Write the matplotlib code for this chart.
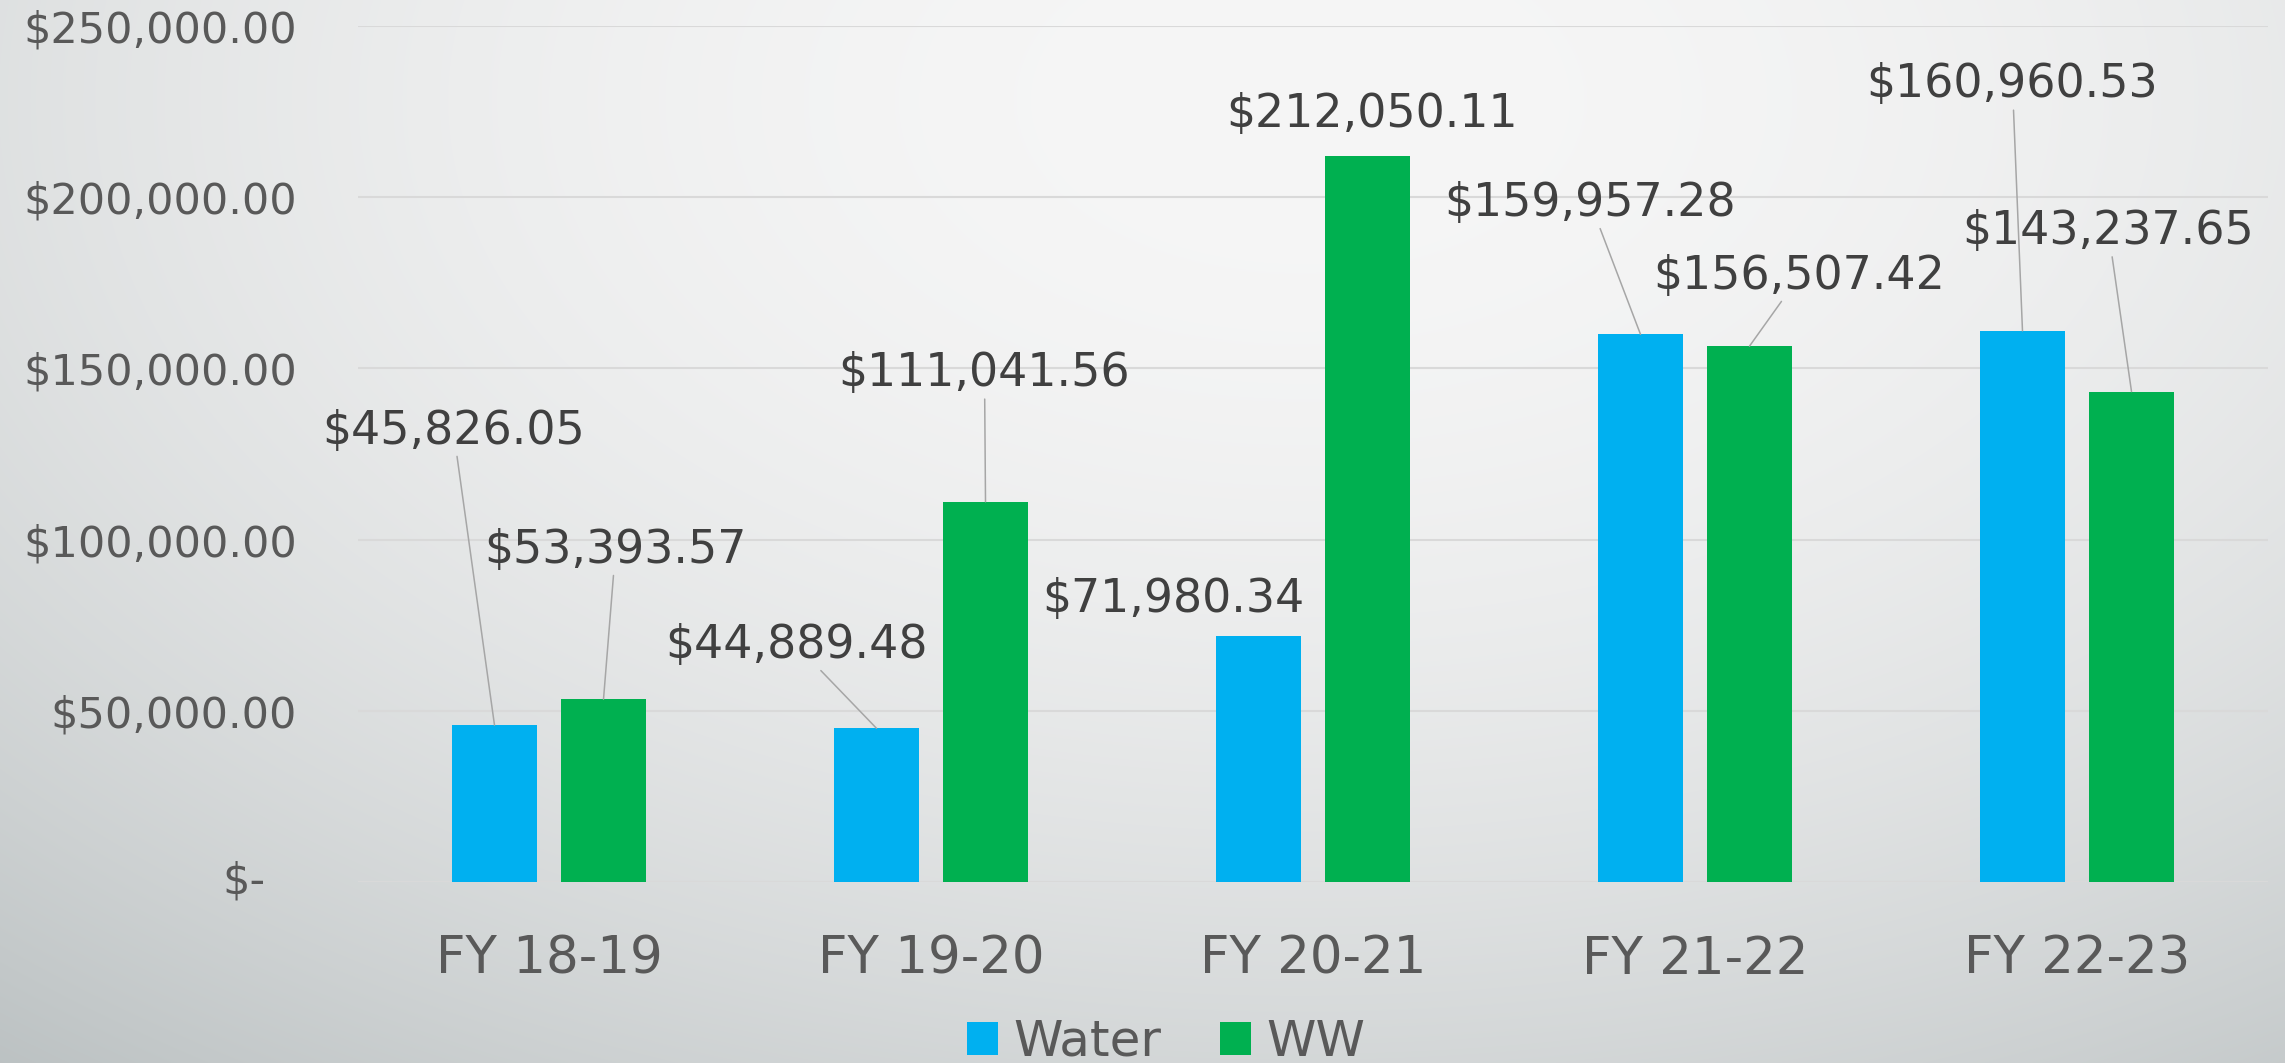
import numpy as np
import matplotlib.pyplot as plt

plt.rcParams['font.family'] = ['DejaVu Sans']

# spending per fiscal year
years = ['FY 18-19', 'FY 19-20', 'FY 20-21', 'FY 21-22', 'FY 22-23']
water = [45826.05, 44889.48, 71980.34, 159957.28, 160960.53]
ww = [53393.57, 111041.56, 212050.11, 156507.42, 143237.65]
yticks = [0, 50000, 100000, 150000, 200000, 250000]

# where each value label sits relative to its bar top (pixels), and
# whether a leader line is drawn back to the bar
water_lbl = [(-41, 294, True), (-80, 83, True), (-85, 36, False),
             (-50, 131, True), (-10, 246, True)]
ww_lbl = [(12, 149, True), (-1, 128, True), (5, 41, False),
          (50, 70, True), (-23, 160, True)]

W, H = 2285, 1063
fig = plt.figure(figsize=(W / 100, H / 100), dpi=100)

# soft grey backdrop, brightest near the top middle
yy, xx = np.mgrid[0:H, 0:W]
dx = (xx - 1300) / 1000.0
dy = (yy - 100) / 1000.0
g = np.clip(246 - 12.4 * dx ** 2 - 33.7 * dy ** 2, 175, 247)
bg = np.dstack([g - 0.11 * (246 - g), g, g + 0.02 * (246 - g)]) / 255.0
bgax = fig.add_axes([0, 0, 1, 1], zorder=-1)
bgax.imshow(np.clip(bg, 0, 1), aspect='auto', interpolation='bilinear')
bgax.axis('off')

ax = fig.add_axes([358 / W, 181 / H, 1910 / W, 856 / H])
ax.patch.set_alpha(0)

x = np.arange(len(years))
off, bw = 0.1427, 0.225
ax.bar(x - off, water, bw, color='#00b0f0', label='Water', zorder=3)
ax.bar(x + off, ww, bw, color='#00b050', label='WW', zorder=3)

ax.set_xlim(-0.5, len(years) - 0.5)
ax.set_ylim(0, 250000)
ax.set_yticks(yticks)
ax.set_yticklabels(['' if v == 0 else '${:,.2f}'.format(v) for v in yticks])
ax.set_xticks(x)
ax.set_xticklabels(years)
ax.yaxis.grid(True, color='#d9d9d9', lw=1.5, zorder=0)
ax.set_axisbelow(True)
for s in ax.spines.values():
    s.set_visible(False)
ax.tick_params(axis='y', length=0, pad=44, labelsize=31, labelcolor='#595959')
ax.tick_params(axis='x', length=0, pad=38, labelsize=37, labelcolor='#595959')

# zero label is written as "$-" and sits a little further left
ax.text(-(61 + 32) / 1910, 0, '$-', transform=ax.get_yaxis_transform(),
        ha='right', va='center', fontsize=31, color='#595959')

leader = dict(arrowstyle='-', color='#a6a6a6', lw=1.1, shrinkA=0, shrinkB=0)
for xs, vals, lbls in [(x - off, water, water_lbl), (x + off, ww, ww_lbl)]:
    for xi, v, (ox, oy, line) in zip(xs, vals, lbls):
        ax.annotate('${:,.2f}'.format(v), xy=(xi, v), xytext=(ox, oy),
                    textcoords='offset pixels', ha='center', va='center',
                    fontsize=33, color='#404040',
                    arrowprops=leader if line else None, zorder=4)

fig.legend(loc='lower center', bbox_to_anchor=(1166 / W, -28 / H), ncol=2,
           frameon=False, fontsize=36, labelcolor='#595959',
           handlelength=0.62, handleheight=0.62, handletextpad=0.32,
           columnspacing=1.16, borderpad=0)

fig.savefig('out.png', dpi=100)
